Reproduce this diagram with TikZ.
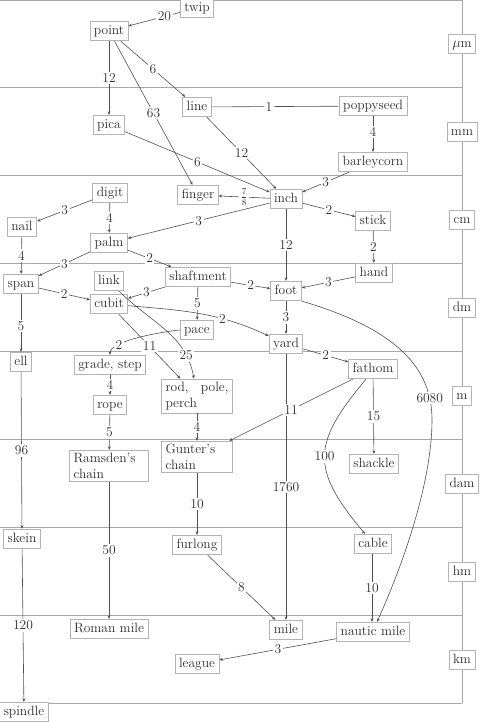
\documentclass[tikz,border=0pt]{standalone}
\usetikzlibrary{arrows.meta}
\definecolor{bandgray}{HTML}{A8A8A8}
\definecolor{boxgray}{HTML}{B4B4B4}
\definecolor{edgegray}{HTML}{505050}
\definecolor{txtgray}{HTML}{2E2E2E}
\tikzset{
  band/.style={draw=bandgray, line width=0.9pt},
  box/.style={draw=boxgray, line width=0.8pt, fill=white, text=txtgray,
    font=\fontsize{13.5}{16}\selectfont, inner xsep=4pt, inner ysep=4pt,
    text height=9pt, text depth=2.5pt},
  mbox/.style={draw=boxgray, line width=0.8pt, fill=white, text=txtgray,
    font=\fontsize{13.5}{16}\selectfont, inner xsep=4pt, inner ysep=3pt},
  unit/.style={box},
  conn/.style={draw=edgegray, line width=0.6pt},
  arr/.style={conn, -{Stealth[length=3.5pt,width=3pt]}},
  lbl/.style={fill=white, text=txtgray, font=\fontsize{13.5}{16}\selectfont, inner sep=1.5pt}
}
\begin{document}
\begin{tikzpicture}[x=1pt,y=1pt]
\useasboundingbox (0,0) rectangle (484,-722);
% bands
\foreach \yy in {0.5,87.9,175.8,263.6,351.5,439.4,527.3,615.1,703}
  \draw[band] (0,-\yy) -- (462,-\yy);
\draw[band] (462,-0.5) -- (462,-703);
% unit labels
\node[unit] (um) at (462,-44) {$\mu$m};
\node[unit] (mm) at (462,-132) {mm};
\node[unit] (cm) at (462,-220) {cm};
\node[unit] (dm) at (462,-308) {dm};
\node[unit] (m) at (462,-396) {m};
\node[unit] (dam) at (462,-484) {dam};
\node[unit] (hm) at (462,-572) {hm};
\node[unit] (km) at (462,-660) {km};
% nodes
\node[box] (twip) at (197,-8) {twip};
\node[box] (point) at (109,-31) {point};
\node[box] (line) at (197,-107) {line};
\node[box] (poppy) at (373,-106) {poppyseed};
\node[box] (pica) at (109,-125) {pica};
\node[box] (barley) at (373,-162) {barleycorn};
\node[box] (finger) at (198,-195) {finger};
\node[box] (inch) at (286,-199) {inch};
\node[box] (digit) at (110,-193) {digit};
\node[box] (nail) at (22,-227) {nail};
\node[box] (stick) at (373,-221) {stick};
\node[box] (palm) at (109,-243) {palm};
\node[box] (hand) at (374,-273) {hand};
\node[box] (span) at (21,-284) {span};
\node[box] (link) at (109,-281) {link};
\node[box] (shaft) at (198,-277) {shaftment};
\node[box] (foot) at (286,-291) {foot};
\node[box] (cubit) at (109,-304) {cubit};
\node[box] (pace) at (197,-330) {pace};
\node[box] (yard) at (286,-344) {yard};
\node[box] (ell) at (21,-362) {ell};
\node[box] (grade) at (110,-365) {grade, step};
\node[box] (fathom) at (373,-369) {fathom};
\node[mbox, text width=63pt, align=justify] (rod) at (197,-396) {rod, pole, perch};
\node[box] (rope) at (110,-405) {rope};
\node[mbox, text width=71pt, align=left] (ramsden) at (109,-466) {Ramsden's\\chain};
\node[mbox, text width=63pt, align=left] (gunter) at (197,-457) {Gunter's\\chain};
\node[box] (shackle) at (374,-464) {shackle};
\node[box] (skein) at (22,-539) {skein};
\node[box] (furlong) at (197,-545) {furlong};
\node[box] (cable) at (373,-544) {cable};
\node[box] (roman) at (109,-629) {Roman mile};
\node[box] (mile) at (286,-630) {mile};
\node[box] (nautic) at (373,-632) {nautic mile};
\node[box] (league) at (197,-664) {league};
\node[box] (spindle) at (24,-712) {spindle};
% edges
\draw[arr] (twip) -- node[lbl,pos=.3]{20} (point);
\draw[arr] (point) -- node[lbl]{12} (pica);
\draw[arr] (point) -- node[lbl]{6} (line);
\draw[arr] (point) -- node[lbl]{63} (finger);
\draw[conn] (line) -- node[lbl,pos=.45]{1} (poppy);
\draw[arr] (line) -- node[lbl]{12} (inch);
\draw[arr] (pica) -- node[lbl]{6} (inch);
\draw[arr] (poppy) -- node[lbl,pos=.45]{4} (barley);
\draw[arr] (barley) -- node[lbl]{3} (inch);
\draw[arr] (inch) -- node[lbl]{$\frac{7}{8}$} (finger);
\draw[arr] (inch) -- node[lbl]{3} (palm);
\draw[arr] (inch) -- node[lbl]{2} (stick);
\draw[arr] (inch) -- node[lbl]{12} (foot);
\draw[arr] (digit) -- node[lbl]{3} (nail);
\draw[arr] (digit) -- node[lbl]{4} (palm);
\draw[arr] (stick) -- node[lbl]{2} (hand);
\draw[arr] (nail) -- node[lbl]{4} (span);
\draw[arr] (palm) -- node[lbl]{3} (span);
\draw[arr] (palm) -- node[lbl]{2} (shaft);
\draw[arr] (hand) -- node[lbl]{3} (foot);
\draw[arr] (span) -- node[lbl]{2} (cubit);
\draw[arr] (shaft) -- node[lbl]{3} (cubit);
\draw[arr] (shaft) -- node[lbl]{2} (foot);
\draw[arr] (shaft) -- node[lbl]{5} (pace);
\draw[arr] (cubit) to[out=-5,in=155] node[lbl,pos=.67]{2} (yard);
\draw[arr] (cubit) -- node[lbl]{11} (rod);
\draw[arr] (link) to[out=-45,in=100] node[lbl,pos=.8]{25} (rod);
\draw[arr] (pace.west) to[out=185,in=90,looseness=0.5] node[lbl,pos=.75]{2} (grade.north);
\draw[arr] (foot) -- node[lbl]{3} (yard);
\draw[arr] (foot.south east) .. controls (400,-330) and (432,-370) .. (432,-420)
  node[lbl,pos=.85]{6080}
  .. controls (432,-480) and (405,-560) .. ([xshift=4pt]nautic.north);
\draw[arr] (span) -- node[lbl,pos=.55]{5} (ell);
\draw[arr] (yard) -- node[lbl]{2} (fathom);
\draw[arr] (yard) -- node[lbl]{1760} (mile);
\draw[arr] (fathom) -- node[lbl]{11} (gunter);
\draw[arr] (fathom) -- node[lbl]{15} (shackle);
\draw[arr] ([xshift=-7pt]fathom.south) to[out=-130,in=130,looseness=1.4] node[lbl]{100} ([xshift=-8pt]cable.north);
\draw[arr] (ell) -- node[lbl]{96} (skein);
\draw[arr] (grade) -- node[lbl]{4} (rope);
\draw[arr] (rope) -- node[lbl]{5} (ramsden);
\draw[arr] (rod) -- node[lbl]{4} (gunter);
\draw[arr] (gunter) -- node[lbl]{10} (furlong);
\draw[arr] (ramsden) -- node[lbl]{50} (roman);
\draw[arr] (furlong) -- node[lbl]{8} (mile);
\draw[arr] ([xshift=-1pt]cable.south) -- node[lbl]{10} ([xshift=-1pt]nautic.north);
\draw[arr] (skein) -- node[lbl]{120} (spindle);
\draw[arr] (nautic) -- node[lbl]{3} (league);
\end{tikzpicture}
\end{document}
